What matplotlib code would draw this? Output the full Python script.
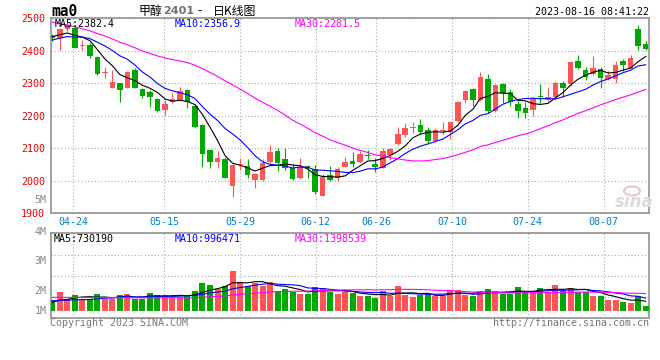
import numpy as np
import pandas as pd
import matplotlib
matplotlib.use("Agg")
import matplotlib.pyplot as plt
from matplotlib.patches import Ellipse

# trading days 2023-04-19 .. 2023-08-15 (80 sessions)
holidays = ["2023-05-01", "2023-05-02", "2023-05-03", "2023-06-22", "2023-06-23"]
days = [d for d in pd.bdate_range("2023-04-19", "2023-08-15") if d.strftime("%Y-%m-%d") not in holidays]
date_labels = ["04-24", "05-15", "05-29", "06-12", "06-26", "07-10", "07-24", "08-07"]

opens = [2447, 2438, 2466, 2471, 2414, 2418, 2382, 2332, 2287, 2300,
         2287, 2341, 2282, 2272, 2252, 2218, 2241, 2249, 2279, 2231,
         2172, 2095, 2059, 2067, 1985, 2050, 2045, 2002, 2002, 2059,
         2092, 2067, 2038, 2010, 2047, 2036, 1954, 2018, 2010, 2043,
         2062, 2057, 2079, 2053, 2040, 2079, 2112, 2141, 2162, 2172,
         2156, 2122, 2152, 2151, 2184, 2249, 2282, 2249, 2313, 2215,
         2297, 2272, 2235, 2223, 2218, 2260, 2249, 2259, 2302, 2297,
         2369, 2341, 2328, 2344, 2313, 2313, 2369, 2348, 2467, 2421]
highs = [2452, 2469, 2490, 2480, 2433, 2423, 2385, 2351, 2341, 2302,
         2338, 2346, 2285, 2279, 2254, 2249, 2269, 2290, 2281, 2235,
         2175, 2097, 2092, 2074, 2051, 2069, 2067, 2023, 2067, 2110,
         2100, 2100, 2051, 2069, 2049, 2049, 2020, 2047, 2043, 2074,
         2090, 2092, 2095, 2069, 2102, 2100, 2167, 2179, 2180, 2190,
         2167, 2161, 2182, 2182, 2246, 2279, 2285, 2336, 2328, 2297,
         2300, 2282, 2246, 2241, 2259, 2297, 2290, 2307, 2307, 2369,
         2387, 2351, 2385, 2351, 2338, 2369, 2375, 2387, 2480, 2430]
lows = [2430, 2403, 2462, 2408, 2403, 2377, 2326, 2315, 2285, 2243,
        2285, 2285, 2254, 2228, 2211, 2202, 2239, 2246, 2225, 2161,
        2043, 2040, 2040, 2008, 1951, 2033, 2008, 1979, 2000, 2054,
        2031, 2033, 2003, 2007, 2010, 1959, 1952, 1999, 2000, 2041,
        2043, 2055, 2067, 2026, 2038, 2063, 2110, 2136, 2146, 2143,
        2113, 2120, 2143, 2129, 2182, 2238, 2231, 2246, 2208, 2211,
        2238, 2231, 2194, 2192, 2200, 2238, 2246, 2256, 2259, 2293,
        2344, 2310, 2326, 2287, 2310, 2300, 2338, 2346, 2403, 2403]
closes = [2440, 2466, 2478, 2410, 2417, 2385, 2329, 2335, 2305, 2280,
          2336, 2287, 2262, 2259, 2216, 2236, 2252, 2276, 2241, 2167,
          2084, 2057, 2071, 2010, 2049, 2052, 2018, 2021, 2054, 2090,
          2056, 2038, 2005, 2043, 2040, 1966, 2013, 2002, 2036, 2059,
          2051, 2082, 2076, 2043, 2092, 2098, 2144, 2161, 2165, 2151,
          2122, 2156, 2155, 2180, 2241, 2276, 2249, 2320, 2215, 2295,
          2269, 2243, 2215, 2208, 2252, 2257, 2259, 2302, 2287, 2367,
          2348, 2320, 2348, 2317, 2326, 2356, 2356, 2379, 2416, 2405]
# closes before the window, only used to warm up the moving averages
prior_closes = [2610, 2595, 2600, 2585, 2570, 2580, 2575, 2560, 2590, 2570,
                2565, 2560, 2480, 2450, 2420, 2400, 2410, 2395, 2405, 2400,
                2410, 2425, 2430, 2415, 2430, 2440, 2450, 2445, 2445]

volumes = [838, 1448, 889, 1219, 940, 940, 1295, 940, 940, 1219,
           1295, 940, 940, 1346, 1219, 1219, 1092, 1092, 1219, 1524,
           2159, 1981, 1651, 1905, 3048, 2210, 1905, 2108, 1905, 2210,
           1524, 1702, 1448, 1295, 1295, 1854, 1778, 1473, 1295, 1473,
           1397, 1168, 1168, 1016, 1524, 1168, 1930, 1219, 1092, 1219,
           1295, 1168, 1168, 1600, 1600, 1219, 1168, 1524, 1676, 1524,
           1295, 1295, 1854, 1524, 1524, 1778, 1422, 2007, 1524, 1778,
           1473, 1473, 1168, 1168, 838, 838, 686, 610, 1168, 406]  # thousand lots
prior_volumes = [1250, 1100, 1320, 1180, 1050, 1260, 1150, 1210, 1090, 1300,
                 1170, 1120, 1240, 1080, 1200, 1150, 1230, 1110, 1190, 1190,
                 900, 820, 880, 850, 870, 640, 590, 620, 612]

price_ma_text = ["MA5:2382.4", "MA10:2356.9", "MA30:2281.5"]
vol_ma_text = ["MA5:730190", "MA10:996471", "MA30:1398539"]
ma_colors = ["#000000", "#0000ff", "#ff00ff"]

RED = "#ff5555"
GREEN = "#00a800"
MONO = "DejaVu Sans Mono"
W, H = 660, 360


def px(x, y):
    return x / W, 1 - y / H


n = len(closes)
xs = np.arange(n)
o = np.array(opens); c = np.array(closes); hi = np.array(highs); lo = np.array(lows)
up = c >= o
cols = np.where(up, RED, GREEN)

cs = pd.Series(prior_closes + closes)
vs = pd.Series(prior_volumes + volumes) * 1000
price_ma = [cs.rolling(k).mean().values[-n:] for k in (5, 10, 30)]
vol_ma = [vs.rolling(k).mean().values[-n:] for k in (5, 10, 30)]

fig = plt.figure(figsize=(6.6, 3.6), dpi=100)
ax = fig.add_axes([50.7 / W, 1 - 213.3 / H, 598.3 / W, 195 / H])
axv = fig.add_axes([50.7 / W, 1 - 318.3 / H, 598.3 / W, 85 / H])

xlim = (-0.21, 79.45)
label_idx = [[d.strftime("%m-%d") for d in days].index(s) for s in date_labels]
grid_x = [xlim[0] + i * (xlim[1] - xlim[0]) / (n - 1) for i in label_idx]

# candles
ax.vlines(xs, lo, hi, colors=cols, lw=0.8, zorder=3)
ax.bar(xs, np.maximum(np.abs(c - o), 2), bottom=np.minimum(o, c), width=0.74,
       color=cols, linewidth=0, zorder=3)
for m, col in zip(price_ma, ma_colors):
    ax.plot(xs, m, color=col, lw=0.8, zorder=4)

ax.set_xlim(*xlim)
ax.set_ylim(1900, 2500)
ax.set_yticks(range(1900, 2501, 100))
ax.set_xticks(grid_x)
ax.set_xticklabels(date_labels)
ax.tick_params(axis="both", length=0, labelsize=7.2)
ax.tick_params(axis="y", labelcolor="#ee0000", pad=4)
ax.tick_params(axis="x", labelcolor="#0080d0", pad=3)
for lab in ax.get_xticklabels() + ax.get_yticklabels():
    lab.set_family(MONO)

# volume
axv.bar(xs, vs.values[-n:], width=0.8, color=cols, linewidth=0, zorder=3)
for m, col in zip(vol_ma, ma_colors):
    axv.plot(xs, m, color=col, lw=0.8, zorder=4)
axv.set_xlim(*xlim)
vlim = (-0.556e6, 5.921e6)
axv.set_ylim(*vlim)
axv.set_yticks(np.linspace(vlim[0], vlim[1], 5)[1:-1])
axv.set_xticks(grid_x)
axv.set_xticklabels([])
axv.set_yticklabels([])
axv.tick_params(axis="both", length=0)

for a in (ax, axv):
    a.grid(True, color="#aaaaaa", lw=0.8, linestyle=(0, (1, 2)), zorder=0)
    for s in a.spines.values():
        s.set_color("#999999")
        s.set_linewidth(1.3)

# texts
fig.text(*px(51, 12), "ma0", fontsize=10.5, fontweight="bold", family=MONO, va="center")
cjk = ["Noto Sans CJK SC", "DejaVu Sans"]
fig.text(*px(139, 11), "甲醇", fontsize=8.6, family=cjk, va="center")
fig.text(*px(163.5, 11.5), "2401", fontsize=8, family="DejaVu Sans", color="#707070",
         fontweight="bold", va="center")
fig.text(*px(200, 11), "-", fontsize=8.6, family=cjk, va="center", ha="center")
fig.text(*px(213, 11), "日K线图", fontsize=8.6, family=cjk, va="center")
fig.text(*px(649, 12), "2023-08-16 08:41:22", fontsize=7.2, family=MONO, ha="right", va="center")

for t, col, xp in zip(price_ma_text, ma_colors, (55, 175, 295)):
    fig.text(*px(xp, 24), t, fontsize=7.2, family=MONO, color=col, va="center")
for t, col, xp in zip(vol_ma_text, ma_colors, (54, 175, 295)):
    fig.text(*px(xp, 238.5), t, fontsize=7.2, family=MONO, color=col, va="center")

for t, yp in zip(["5M", "4M", "3M", "2M", "1M"], [200, 231.7, 261, 290.7, 310.7]):
    fig.text(*px(46.5, yp), t, fontsize=7.2, family=MONO, color="#888888", ha="right", va="center")

fig.text(*px(50, 323.5), "Copyright 2023 SINA.COM", fontsize=7.2, family=MONO,
         color="#777777", va="center")
fig.text(*px(649, 323.5), "http://finance.sina.com.cn", fontsize=7.2, family=MONO,
         color="#777777", va="center", ha="right")

# sina watermark
fig.text(*px(634, 202), "sina", fontsize=12, family="DejaVu Sans", style="italic",
         fontweight="bold", color="#dcdcdc", ha="center", va="center", zorder=1)
fig.patches.append(Ellipse(px(632, 191), 16 / W, 9 / H, transform=fig.transFigure,
                           facecolor="none", edgecolor="#f4c4c4", lw=1.5))

fig.savefig("out.png", dpi=100)
